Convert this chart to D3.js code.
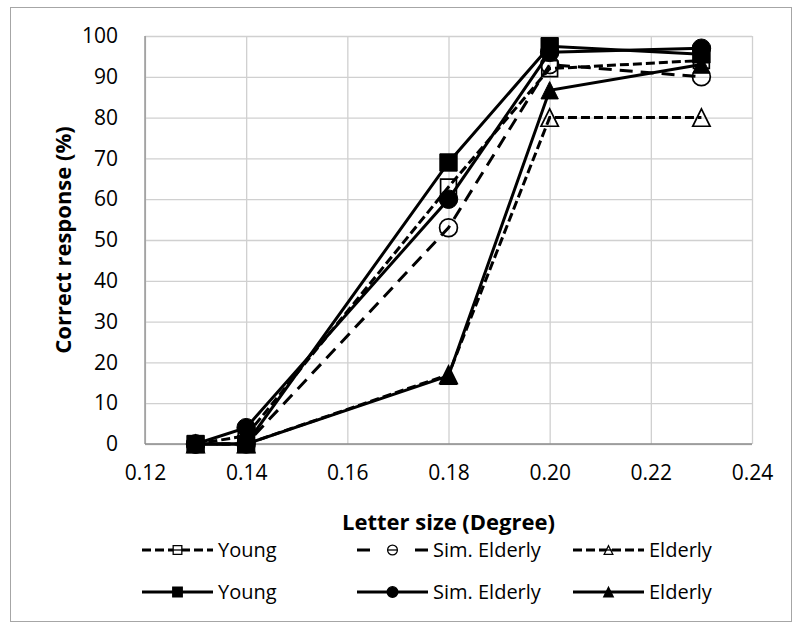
<!DOCTYPE html>
<html>
<head>
<meta charset="utf-8">
<script src="https://cdn.jsdelivr.net/npm/d3@7"></script>
<style>
  html, body { margin: 0; padding: 0; background: #fff; overflow: hidden; }
  svg { display: block; font-family: "Open Sans", sans-serif; }
</style>
</head>
<body>
<div id="chart"></div>
<script>
// letter sizes (degree) and correct responses (%)
const letterSizes = [0.13, 0.14, 0.18, 0.20, 0.23];
const youngDashed = [0, 2, 63, 92, 94];
const simElderlyDashed = [0, 0, 53, 93, 90];
const elderlyDashed = [0, 0, 17, 80, 80];
const youngSolid = [0, 0, 69, 97.5, 95.5];
const simElderlySolid = [0, 4, 60, 96, 97];
const elderlySolid = [0, 0, 16.7, 86.7, 93];

const xTicks = [0.12, 0.14, 0.16, 0.18, 0.20, 0.22, 0.24];
const yTicks = [0, 10, 20, 30, 40, 50, 60, 70, 80, 90, 100];
const legendNames = ["Young", "Sim. Elderly", "Elderly"];

const w = 794;
const h = 624;
const margin = { top: 36, right: 42, bottom: 180, left: 145 };
const innerWidth = w - margin.left - margin.right;
const innerHeight = h - margin.top - margin.bottom;

// Excel-like triangle: centred on its bounding box
const boxTriangle = {
  draw(context, size) {
    const s = Math.sqrt(size);
    context.moveTo(0, -s / 2);
    context.lineTo(s / 2, s / 2);
    context.lineTo(-s / 2, s / 2);
    context.closePath();
  }
};

const series = [
  { name: legendNames[0], values: youngDashed, dash: "9,4", legendDash: "9,4", shape: d3.symbolSquare, size: 250, filled: false },
  { name: legendNames[1], values: simElderlyDashed, dash: "13,8", legendDash: "13,45", shape: d3.symbolCircle, size: 250, filled: false },
  { name: legendNames[2], values: elderlyDashed, dash: "9,4", legendDash: "9,4", shape: boxTriangle, size: 300, filled: false },
  { name: legendNames[0], values: youngSolid, dash: null, legendDash: null, shape: d3.symbolSquare, size: 300, filled: true },
  { name: legendNames[1], values: simElderlySolid, dash: null, legendDash: null, shape: d3.symbolCircle, size: 270, filled: true },
  { name: legendNames[2], values: elderlySolid, dash: null, legendDash: null, shape: boxTriangle, size: 300, filled: true }
];
// drawing order: dashed first, then solid; squares on top of circles on top of triangles
const drawOrder = [2, 1, 0, 5, 4, 3];

const xScale = d3.scaleLinear().domain([0.12, 0.24]).range([margin.left, w - margin.right]);
const yScale = d3.scaleLinear().domain([0, 100]).range([h - margin.bottom, margin.top]);

const svg = d3.select("#chart").append("svg").attr("width", w).attr("height", h);

// chart border
svg.append("rect")
  .attr("x", 10.5).attr("y", 7.5)
  .attr("width", 781).attr("height", 614)
  .attr("fill", "none").attr("stroke", "#a6a6a6");

// grid
const xGrid = d3.axisBottom(xScale).tickValues(xTicks).tickSize(-innerHeight).tickFormat("");
const yGrid = d3.axisLeft(yScale).tickValues(yTicks).tickSize(-innerWidth).tickFormat("");

svg.append("g")
  .attr("transform", `translate(0, ${h - margin.bottom})`)
  .call(xGrid)
  .call(g => g.select(".domain").remove())
  .selectAll("line").attr("stroke", "#d0d0d0").attr("stroke-width", 1.3);

svg.append("g")
  .attr("transform", `translate(${margin.left}, 0)`)
  .call(yGrid)
  .call(g => g.select(".domain").remove())
  .selectAll("line").attr("stroke", "#d0d0d0").attr("stroke-width", 1.3);

// axis lines
svg.append("line")
  .attr("x1", margin.left).attr("x2", margin.left)
  .attr("y1", margin.top).attr("y2", h - margin.bottom)
  .attr("stroke", "#8c8c8c").attr("stroke-width", 1.3);
svg.append("line")
  .attr("x1", margin.left).attr("x2", w - margin.right)
  .attr("y1", h - margin.bottom).attr("y2", h - margin.bottom)
  .attr("stroke", "#8c8c8c").attr("stroke-width", 1.3);

// tick labels
const xAxis = d3.axisBottom(xScale).tickValues(xTicks).tickSize(0).tickPadding(29).tickFormat(d3.format(".2f"));
const yAxis = d3.axisLeft(yScale).tickValues(yTicks).tickSize(0).tickPadding(27).tickFormat(d3.format("d"));

svg.append("g")
  .attr("transform", `translate(0, ${h - margin.bottom})`)
  .call(xAxis)
  .attr("font-family", "Open Sans")
  .attr("font-size", 21)
  .call(g => g.select(".domain").remove())
  .selectAll("text")
  .attr("dy", "0.35em")
  .attr("fill", "#000");

svg.append("g")
  .attr("transform", `translate(${margin.left}, 0)`)
  .call(yAxis)
  .attr("font-family", "Open Sans")
  .attr("font-size", 21)
  .call(g => g.select(".domain").remove())
  .selectAll("text")
  .attr("fill", "#000");

// axis titles
svg.append("text")
  .attr("x", (margin.left + w - margin.right) / 2)
  .attr("y", 522)
  .attr("dy", "0.35em")
  .attr("text-anchor", "middle")
  .attr("font-size", 22)
  .attr("font-weight", "bold")
  .text("Letter size (Degree)");

svg.append("text")
  .attr("transform", `translate(63, ${(margin.top + h - margin.bottom) / 2}) rotate(-90)`)
  .attr("dy", "0.35em")
  .attr("text-anchor", "middle")
  .attr("font-size", 22)
  .attr("font-weight", "bold")
  .text("Correct response (%)");

// series
const line = d3.line()
  .x((d, i) => xScale(letterSizes[i]))
  .y((d) => yScale(d));

drawOrder.forEach(function (k) {
  const s = series[k];
  const g = svg.append("g");
  g.append("path")
    .datum(s.values)
    .attr("d", line)
    .attr("fill", "none")
    .attr("stroke", "#000")
    .attr("stroke-width", 3)
    .attr("stroke-dasharray", s.dash);
  g.selectAll("path.marker")
    .data(s.values)
    .enter()
    .append("path")
    .attr("class", "marker")
    .attr("transform", (d, i) => `translate(${xScale(letterSizes[i])}, ${yScale(d)})`)
    .attr("d", d3.symbol().type(s.shape).size(s.size))
    .attr("fill", s.filled ? "#000" : "none")
    .attr("stroke", "#000")
    .attr("stroke-width", s.filled ? 1 : 1.7);
});

// legend
const legendX = [142, 357, 573];
const legendY = [550, 592];
series.forEach(function (s, i) {
  const col = i % 3;
  const row = Math.floor(i / 3);
  const lg = svg.append("g")
    .attr("transform", `translate(${legendX[col]}, ${legendY[row]})`);
  lg.append("line")
    .attr("x1", 0).attr("x2", 71)
    .attr("y1", 0).attr("y2", 0)
    .attr("stroke", "#000")
    .attr("stroke-width", 3)
    .attr("stroke-dasharray", s.legendDash);
  lg.append("path")
    .attr("transform", "translate(35.5, 0)")
    .attr("d", d3.symbol().type(s.shape).size(s.filled ? 90 : 75))
    .attr("fill", s.filled ? "#000" : "#fff")
    .attr("stroke", "#000")
    .attr("stroke-width", 1.3);
  if (!s.filled) {
    lg.append("line")
      .attr("x1", 31).attr("x2", 40).attr("y1", 0).attr("y2", 0)
      .attr("stroke", "#000").attr("stroke-width", 1.3);
  }
  lg.append("text")
    .attr("x", 76)
    .attr("y", 0)
    .attr("dy", "0.35em")
    .attr("font-size", 20)
    .text(s.name);
});
</script>
</body>
</html>
